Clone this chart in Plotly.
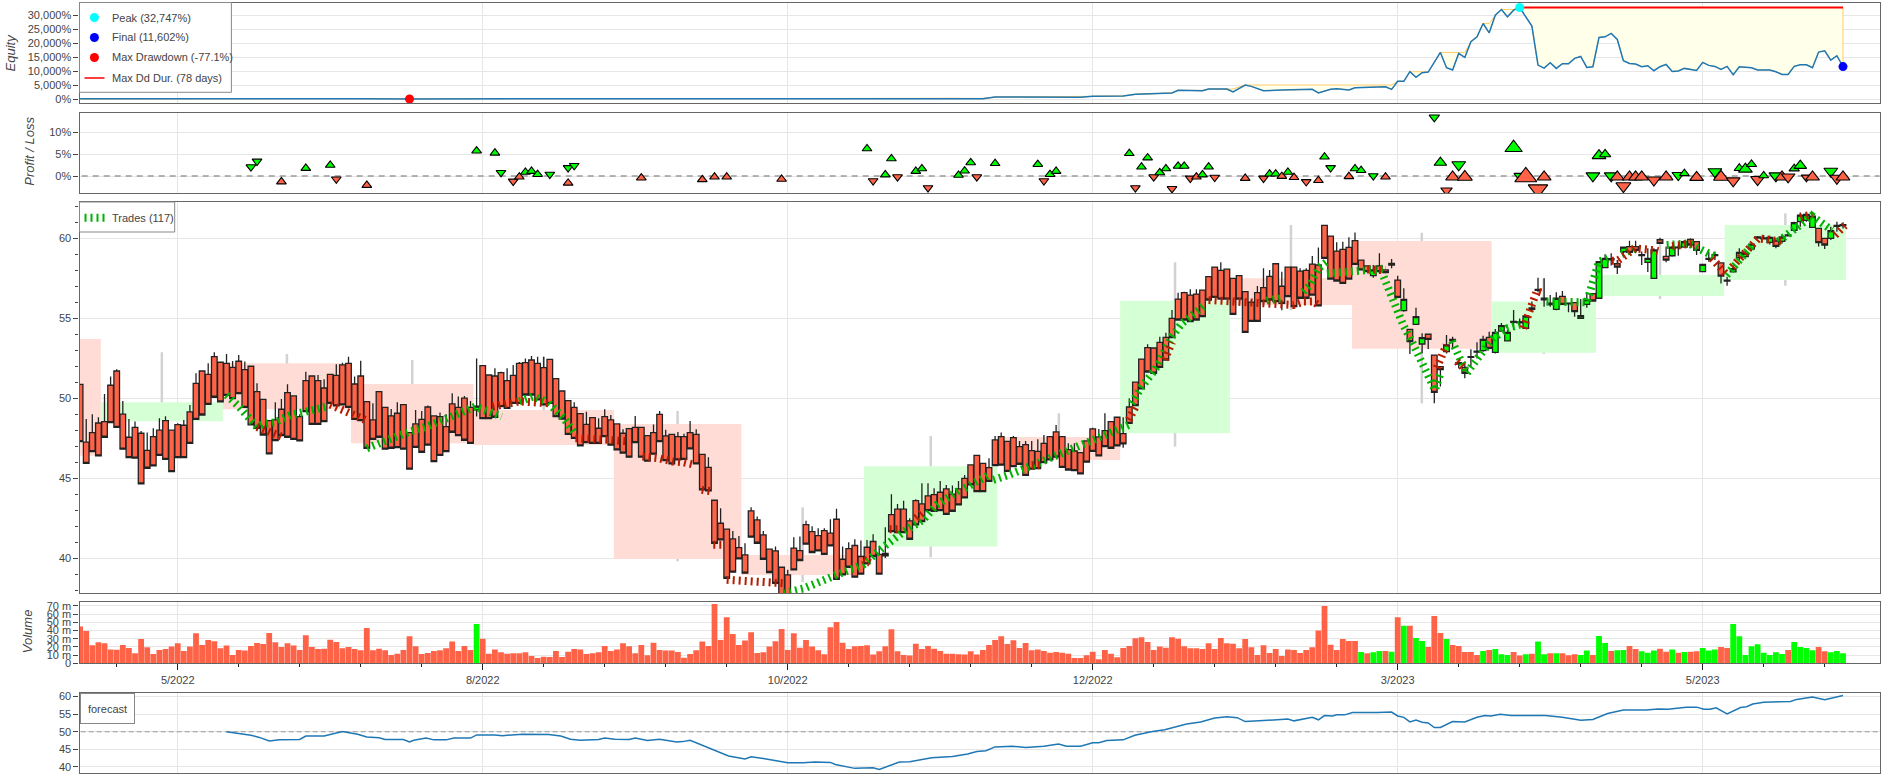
import numpy as np
import plotly.graph_objects as go

W, H = 1884, 778
first_bar = 34

body_top = [
 50.87,47.25,47.85,48.45,48.54,50.81,51.70,49.00,47.56,48.18,
 47.81,46.74,47.60,48.00,48.60,48.00,48.35,48.31,49.14,50.93,
 51.70,51.49,52.60,52.25,52.18,51.93,52.31,51.79,52.00,50.41,
 49.93,48.60,48.64,49.31,50.35,50.14,48.85,51.10,51.39,51.10,
 50.64,51.49,51.43,52.08,52.18,50.89,51.39,49.79,48.64,50.41,
 49.43,48.89,49.06,49.60,47.85,48.39,48.68,49.45,48.89,48.85,
 48.22,49.64,49.43,50.00,49.43,49.51,52.04,51.45,51.39,51.60,
 51.10,51.43,52.18,52.22,52.39,52.18,51.91,52.43,51.22,50.45,
 49.85,49.43,49.04,48.37,48.79,48.12,48.85,48.64,48.39,47.81,
 48.10,48.18,48.18,47.66,47.85,48.99,47.64,47.74,47.60,47.60,
 47.85,47.74,46.49,45.68,43.62,42.18,41.81,41.20,40.66,40.20,
 42.95,42.39,41.45,40.56,40.45,39.43,38.95,40.62,40.47,42.10,
 41.66,41.41,41.72,41.56,42.43,39.93,40.60,40.79,40.10,40.68,
 41.04,40.24,40.29,42.72,43.06,43.06,42.33,43.60,43.39,43.89,
 43.97,44.12,44.33,44.00,44.33,44.99,45.83,46.43,45.93,45.66,
 47.39,47.60,47.30,47.54,46.97,47.10,46.72,46.68,47.18,47.60,
 47.89,47.60,46.79,46.70,46.60,47.33,48.08,47.58,47.97,48.54,
 48.81,47.79,49.45,51.00,52.45,53.16,53.14,53.49,53.81,54.99,
 56.20,56.60,56.45,56.51,56.76,57.60,58.20,58.00,58.07,57.50,
 57.67,56.67,56.00,56.60,56.91,57.62,58.41,57.00,58.20,58.20,
 57.95,58.00,58.39,58.33,60.81,60.14,59.20,59.31,59.43,59.85,
 58.64,58.27,58.02,58.27,58.02,58.43,57.39,56.18,54.31,55.10,
 53.79,54.00,52.70,51.98,53.33,53.68,52.22,51.93,52.60,52.95,
 53.68,53.81,54.12,54.54,54.12,54.81,54.78,55.14,55.65,56.80,
 56.25,55.95,56.25,56.37,55.95,55.98,55.16,56.16,56.54,58.54,
 58.75,58.72,58.41,59.45,59.48,59.48,58.98,58.75,59.27,59.91,
 58.87,59.45,59.45,59.79,59.93,59.79,58.37,58.75,58.98,58.46,
 57.39,58.10,59.12,59.06,59.64,60.08,60.02,60.06,59.83,60.08,
 60.22,60.98,61.45,61.50,61.39,60.62,60.00,60.48,60.80,60.85,
]
body_bot = [
 47.29,45.93,46.66,46.39,47.56,48.47,48.18,46.81,46.29,46.25,
 44.64,45.62,45.77,46.43,46.18,45.41,46.29,46.29,47.18,48.68,
 48.95,49.62,50.06,49.77,50.18,49.97,50.29,49.43,48.33,48.12,
 47.70,46.52,47.35,47.66,47.56,47.43,47.33,49.16,48.37,48.37,
 48.54,49.68,49.52,49.58,49.43,48.68,48.60,46.87,47.43,47.56,
 46.81,46.87,46.91,46.81,45.56,46.93,46.62,47.06,46.04,46.43,
 46.66,47.87,47.66,47.37,47.18,49.27,48.72,48.72,48.81,49.47,
 49.37,49.68,49.68,50.20,50.20,49.89,49.58,49.68,48.85,48.70,
 47.74,47.49,47.02,47.22,47.18,47.18,47.60,47.06,46.77,46.56,
 46.31,47.22,46.31,46.06,46.50,47.29,46.10,45.89,46.14,46.18,
 46.83,45.89,44.27,44.20,40.93,41.14,38.74,39.12,39.95,39.06,
 41.31,40.93,39.93,39.10,38.43,37.60,37.50,39.27,39.85,40.87,
 40.35,40.45,40.24,40.77,38.68,38.95,39.43,38.81,39.00,39.64,
 40.10,39.00,40.14,41.66,41.60,41.60,41.18,42.08,42.29,42.97,
 42.93,42.97,42.74,42.93,43.33,43.77,44.58,44.16,44.16,44.80,
 45.79,45.81,45.43,45.72,45.87,45.18,45.56,45.60,45.97,46.14,
 46.31,45.68,45.51,45.47,45.27,46.00,46.68,46.39,46.97,46.87,
 47.02,47.14,48.43,49.54,50.58,51.64,51.56,51.93,52.39,53.79,
 54.89,54.89,54.79,54.89,55.10,56.14,56.30,56.20,56.20,55.24,
 56.20,54.12,54.81,54.81,56.04,56.14,56.04,55.93,56.35,55.73,
 56.25,56.25,56.45,55.77,58.75,57.45,57.33,57.18,57.45,58.37,
 58.02,57.91,57.66,57.91,57.85,58.33,56.31,55.48,53.54,54.62,
 53.39,53.68,50.37,51.79,52.91,53.58,52.14,51.56,52.56,52.88,
 52.98,53.12,52.87,54.20,53.58,54.75,54.72,54.37,55.55,56.74,
 56.15,55.85,55.56,55.87,55.90,55.41,55.00,55.87,56.08,56.25,
 58.16,58.66,58.20,59.16,59.12,59.25,58.92,58.50,57.50,59.68,
 58.64,58.91,59.40,59.45,59.58,59.25,57.91,58.69,58.92,57.64,
 57.33,57.90,58.79,58.85,59.33,60.02,59.96,59.75,59.50,59.81,
 60.16,60.50,61.04,61.12,60.68,59.73,59.58,60.00,60.74,60.80,
]
wick_high = [
 50.87,48.70,49.00,48.81,50.27,51.35,51.81,49.83,48.70,48.54,
 47.95,47.85,48.12,48.74,48.87,48.00,48.43,48.64,49.58,51.56,
 51.70,52.18,52.87,52.25,52.77,52.33,52.70,52.29,52.00,50.93,
 49.93,48.60,49.74,49.95,50.87,50.14,49.00,51.66,51.39,51.45,
 51.18,51.49,52.12,52.22,52.60,51.35,52.35,49.79,49.68,50.41,
 49.43,49.33,49.74,49.60,47.85,49.26,49.20,49.54,48.89,49.10,
 49.00,50.31,50.10,50.14,49.83,52.49,52.04,51.45,51.87,51.66,
 51.87,52.08,52.27,52.49,52.64,52.60,52.60,52.43,51.22,50.50,
 49.85,49.74,49.04,49.16,48.79,48.74,49.31,48.95,48.39,48.06,
 48.10,48.89,48.18,47.66,48.35,49.20,48.02,47.74,47.89,47.77,
 48.58,48.06,46.49,46.31,43.62,43.12,41.81,41.70,41.39,40.93,
 43.18,42.60,41.70,40.56,40.72,39.43,39.27,41.31,41.35,42.33,
 42.00,41.87,41.87,42.43,43.08,40.72,41.00,41.18,41.10,41.14,
 41.50,40.72,41.93,44.00,43.39,43.58,42.49,43.68,44.68,44.68,
 44.37,44.83,44.58,44.54,44.83,45.20,45.83,46.43,45.93,46.24,
 47.64,47.85,47.30,47.64,47.32,47.33,47.32,47.43,47.70,47.60,
 48.33,47.60,47.18,47.18,46.60,47.33,48.16,48.08,49.06,48.54,
 48.81,48.81,50.00,51.00,52.45,53.37,53.14,53.85,54.10,55.52,
 56.60,56.66,56.81,56.81,56.76,57.60,58.20,58.50,58.07,57.50,
 57.67,56.67,56.15,57.01,58.12,58.02,58.41,57.91,58.20,58.20,
 58.12,58.12,58.89,59.43,60.81,60.14,59.75,59.79,60.06,60.37,
 58.64,58.27,58.33,59.06,58.02,58.70,57.66,56.87,54.31,55.66,
 54.06,54.00,52.70,51.98,53.96,53.85,52.22,52.29,53.06,53.50,
 53.90,54.16,54.33,54.70,54.27,55.52,54.99,55.14,56.04,57.54,
 57.50,56.46,56.62,56.70,55.95,55.98,56.20,56.62,56.54,58.58,
 59.00,59.06,58.64,59.48,59.85,59.85,59.17,59.37,59.37,60.04,
 59.48,59.54,59.62,59.89,60.00,59.79,58.37,59.16,59.17,58.46,
 57.60,58.30,59.37,59.20,59.64,60.15,60.20,60.16,60.00,60.20,
 60.35,61.04,61.62,61.62,61.50,60.62,60.00,60.73,61.04,61.00,
]
lower_wick_bars = [99,166,205,228,231,246,247,249,250,251,252,254,255,256,257,258,259,260,261,262,263,264,266,269,270,272,273,274,275,276,278,279,281,285,286,287,288,289,290,291,294,295,296,299,301,302,303,304,306,311,312,313,316,317,319,320,321,322,323]
lower_wick_vals = [48.85,40.00,46.90,55.83,55.50,57.54,57.81,58.12,56.25,55.40,52.77,52.81,53.08,49.68,50.73,52.80,53.12,51.87,51.25,51.98,52.49,52.90,52.80,54.27,54.48,55.41,56.62,55.72,55.72,55.50,55.37,55.10,55.66,58.30,57.77,58.96,58.96,59.06,58.33,57.90,58.50,58.85,58.91,58.96,58.54,58.64,57.18,57.04,58.64,59.62,59.37,59.68,60.73,61.04,59.48,59.33,59.90,60.41,60.62]
up_bars = [99,246,249,251,253,254,258,262,263,264,266,267,268,269,270,271,273,274,276,278,280,281,283,284,285,287,290,291,292,295,296,297,300,301,304,305,306,307,308,309,310,311,313,314,315,316,317,318,321,323]

volumes_m = [
 45,39.5,22,25.6,24.4,17,16.7,22.4,18.7,12.2,
 29.7,19.5,11.4,16.3,17.5,20.4,24.4,15,20.4,36.6,
 22.4,28.5,26.9,18.3,21.6,10.2,16.3,15.5,21.2,24.8,
 23.6,37,25.6,20,24.4,21.6,16.3,34.2,20,17.5,
 17.9,28.9,26,18.3,20,17.5,15.9,43,15.9,17.9,
 15.9,10.2,11.8,16.3,33,20.8,11.4,12.6,15,15.9,
 18.3,26.5,15,21.2,16.3,48,30,11.8,17,13.4,
 11.8,12.2,12.2,13.4,9,6.5,8.1,7.7,15,7.7,
 14.2,17.5,17,11.4,12.2,13.4,21.2,15,17,24.4,
 20.8,12.2,22.4,9.8,25.2,16.3,15.5,15.5,13.8,6.9,
 11.4,15.9,26.5,21.2,72.4,28.5,56.2,35.8,22.4,27.7,
 37.9,12.6,13.4,20.4,26.9,41.9,16.3,36.6,19.1,28.5,
 20.4,15.9,11,44,50.5,25.2,17.5,20.8,21.2,22,
 10.6,14.7,20.8,41.5,14.7,10.2,9.4,24,17.5,21.2,
 17.9,15,11.8,11.8,11,10.6,14.7,10.6,16.3,22.4,
 28.5,33,23.6,28,18.7,24.8,15.9,17,15,13,
 13.8,13,11.8,6.5,6.5,9.8,14.2,4.9,16.3,11.8,
 7.3,18.7,21.2,30.5,31.7,26,16.3,20.4,19.1,31.7,
 30,20.8,18.3,18.3,17.5,24.4,17.5,31,24.4,24,
 18.3,29.7,19.5,10.2,22,12.6,17.5,9,17,16.3,
 12.6,16.3,19.5,40,70,22.8,16.3,29.7,27.3,27.3,
 13.8,12.2,13.4,15,15,14.2,56.2,46,46,31,
 27.3,20,57.8,37,29.7,22.4,21.2,13.8,13.8,10.2,
 15,16.3,17.5,11,10.2,13.8,9.4,11,11.8,26.5,
 11,12.2,12.2,12.2,9.8,11,10.2,15.5,10.2,33.4,
 24.8,15,15.9,16.3,21.2,17.5,14.7,13,15.5,17.9,
 14.2,17,13,13.8,14.2,14.7,18.7,15.5,17,20,
 18.7,48,33,10.2,20.8,23.2,13,10.2,13.4,11.4,
 16.3,26,20,18.7,15.9,20,14.7,13.4,15,12.2,
]
volume_green_bars = [99,244,246,247,249,251,253,254,258,264,266,267,268,271,273,274,276,280,281,283,284,286,287,290,291,292,295,297,300,301,302,305,306,307,308,309,310,311,312,313,315,316,317,318,321,322,323]

coarse_start = [17.4,37.4,57.4,78.4,98.5,121.5,142.4,162.5,184.4,204.5,222.5,242.5,265.4,282.5,303.6]
coarse_end = [37.4,57.4,78.4,98.5,121.5,142.4,162.5,184.4,204.5,222.5,242.5,265.4,282.5,303.5,323.5]
coarse_top = [53.7,49.75,52.18,50.89,49.26,48.39,40.2,45.74,47.58,56.1,57.5,59.83,56.04,57.7,60.83]
coarse_bot = [46.4,48.56,49.31,47.18,47.08,39.95,38.95,40.72,46.14,47.81,55.83,53.1,52.85,56.39,57.39]
coarse_high = [53.7,52.87,52.77,52.39,52.6,49.2,43.18,47.64,49.06,58.5,60.83,60.35,57.5,59.9,61.56]
coarse_low = [46.4,48.56,49.31,47.18,47.08,39.8,38.5,40.05,46.14,46.97,55.5,49.68,52.77,56.2,57.04]
coarse_rising = [0,1,0,0,0,0,0,1,0,1,0,0,1,1,1]

equity_bar = [34,45,58,66,75,80,88,100,110,120,124,150,165,177,182,184,195,198,200,205,207,210,213,214,218,219,222,223,225,226,
 228,231,236,237,239,240,242,243,246,248,249,250,251,252,253,254,255,257,258,259,260,261,262,263,264,265,266,267,268,269,270,271,272,
 273,274,275,276,277,278,279,280,281,282,283,284,285,286,287,288,289,290,291,292,293,294,295,296,297,298,299,300,301,302,303,304,305,
 306,307,308,309,310,311,312,313,314,315,316,317,318,319,320,321,322,323]
equity_pct = [60,100,180,100,190,130,20,120,180,100,119,119,119,238,119,714,714,595,952,1071,1667,1905,2143,3095,2976,3571,3571,2500,5000,4520,
 2976,3214,3452,2143,3452,3690,3214,4048,4167,4405,3452,6310,6310,9762,7738,9405,9643,16667,11190,10357,16310,14881,20476,22262,27024,23690,30000,32024,29405,31786,32747,29405,26071,
 12143,11071,12976,10952,12619,12619,14524,15238,11310,11548,22024,22262,23452,21310,13690,12738,12500,11548,11905,10119,11548,12381,9881,10000,10952,10476,10238,13095,12024,11667,10595,11667,8690,
 11548,11429,11190,10357,10357,10357,9762,8810,8810,11667,12262,12262,11190,16786,17262,13929,15476,11602]
peak_bar, peak_pct = 270, 32747
final_bar, final_pct = 323, 11602
dd_bar, dd_pct = 88, 20

pl_bar = [62,63,67,71,75,76,81,99,102,103,105,106,107,108,109,111,114,114,115,
 126,136,138,140,149,163,164,166,167,168,171,172,173,178,179,180,181,184,191,192,193,194,206,207,208,209,210,211,212,213,214,215,216,217,218,219,220,225,
 228,229,230,231,232,233,235,237,238,239,242,243,244,246,248,256,257,258,259,260,261,269,270,271,273,274,282,283,284,285,286,287,288,289,290,292,294,296,297,299,302,303,305,306,307,308,309,310,312,313,314,315,316,317,318,321,322,323]
pl_pct = [2.1,3.4,-1.3,1.8,2.5,-0.7,-2.1,5.8,5.3,0.8,-1.2,-0.2,0.9,1.1,0.4,0.4,1.9,-1.6,2.4,
 -0.4,-0.8,-0.2,-0.2,-0.7,6.3,-1.1,0.3,4.0,-0.2,1.1,1.7,-2.7,0.2,1.2,3.1,-0.2,2.9,2.7,-1.1,0.4,1.1,5.2,-2.7,2.1,4.2,-0.2,0.8,1.7,-2.9,2.3,2.3,-0.5,-0.2,0.3,2.1,-0.3,-0.5,
 -0.5,0.5,0.5,-0.05,0.9,-0.3,-1.3,-1.0,4.4,1.9,-0.1,1.7,1.3,0.05,-0.2,13.5,3.1,-3.3,-0.2,2.6,-0.2,6.5,0.05,-0.2,-3.0,-0.2,0.05,4.7,5.0,0.05,-0.2,-2.3,-0.2,-0.2,-0.2,-0.9,-0.2,0.2,0.6,-0.3,1.0,-0.2,-1.1,1.8,1.6,2.7,-0.8,0.1,0.05,-0.2,-0.2,1.7,2.4,-0.3,-0.2,1.1,-0.5,-0.2]
pl_short_bars = [62,63,76,103,105,111,115,164,168,173,181,192,207,210,213,216,220,228,235,239,246,256,258,260,270,273,282,285,287,292,296,302,305,309,312,314,317,321,322]
pl_trade_size = [8.5]*57 + [8.5]*15 + [9,11,10,12,12,13,15,10,19,17,12,12,12,10,12,12,13,12,12,12,12,12,11,8.5,12,12,13,12,9,12,9,12,8.5,12,12,12,9,11,9,12,12,12,12]

forecast_bar = [58,60,62,63.4,65,66.7,70,71,74,77,79.5,81,83,84,87,88,88.7,90.7,92,94,95.3,98,99,102,103.2,106.5,110.8,112.8,114.4,116,119,120,121.7,124,
 125,127,129,131.8,132.8,134,136,138,140.3,143,144,146,150,152.5,154.5,157,157.8,161,164,165,167,168.3,170,173.6,177,179.5,181,182.5,184,186.8,189,192,194.4,195.7,198,200,201,202.3,205,206.9,209.8,211.8,215.4,217.7,220,222,223.7,225,
 228,231.4,232,233,236,237,238,239.3,240,241.3,242.6,246.6,249,250,251,252,253,254,255,256,257,259,261,263,264.3,265.3,266.8,268.6,274.2,277,280,282,284.4,287,290.7,292.7,294.3,297.3,299,300.2,301.2,302.2,304,306.2,307.2,308.2,310,314.4,315.4,318,320,323]
forecast_val = [50,49.5,49,48.4,47.4,47.7,47.8,48.8,48.8,50.1,49.3,48.5,48.3,47.8,47.8,47.1,47.6,48.2,47.7,47.7,48.2,48.2,49.1,49.1,48.9,49.3,49.2,48.8,47.9,47.6,47.8,48.2,47.9,47.8,
 48.2,47.5,47.9,47.1,47.2,47.6,46.2,44.6,43.1,42.3,42.9,42.4,41.2,41.2,41.4,41.3,40.7,39.6,39.8,39.3,40.7,41.4,41.5,42.6,43,43.7,44.4,44.6,45.7,45.9,45.5,45.9,46.5,45.9,45.9,46.9,46.9,47.5,47.7,49,50.1,50.6,52.2,52.8,53.9,54.3,54,52.9,
 53.2,53.4,53.6,53.1,54.1,53.4,54.6,54.5,54.8,54.8,55.5,55.5,55.6,54.5,54.1,52.8,53.3,52.7,52.5,51.2,51.2,52.9,52.8,54.1,54.6,54.5,55,54.6,54.6,54.1,53.3,53.5,55.2,56.2,56.2,56.5,56.4,57,57,56.4,56.4,56.8,55.1,56.9,57.1,57.9,58.4,58.6,59.2,59.9,59.1,60.3]

trade_green_x = [58,60,63,64,66,68.5,72,74.6,None, 81,83,85.7,87.9,90.6,93.4,96.1,98.8,101,103.1,None, 106,108.2,110.3,None, 110.8,113.3,115.2,None,
 149.3,152.6,158,162.4,165.7,169,172.2,174.4,178.2,None, 179,183,None, 183.7,186.2,191.6,195.5,200.9,205.9,None, 206.4,208,210.2,213,214.6,218.4,None,
 228.5,231.3,None, 234.5,235.6,237,238.4,None, 238.4,243,248.2,None, 247.7,249.3,250.9,252.6,254.2,256.1,257,None, 258.9,261.3,263.5,265.7,267.9,270,None,
 274.4,275.8,281,283,284.5,None, 286.7,289,None, 294.1,297.7,302,None, 303.9,308,None, 312.4,317.9,321.2]
trade_green_y = [50.2,49.5,48.2,48.4,48.5,48.95,49.25,49.5,None, 46.87,47.2,47.6,47.9,48.2,48.64,49.06,49.47,49.16,48.85,None, 49.8,50.1,49.8,None, 49.7,48.74,47.74,None,
 37.8,38.1,38.95,39.6,40.7,41.66,42.39,43.33,44.27,None, 44.37,45.2,None, 44.89,45.2,46.03,46.66,47.6,48.33,None, 49.68,50.7,51.77,53.85,54.68,55.83,None,
 56.1,56.25,None, 56.66,57.08,58.12,58.54,None, 57.8,58.0,58.12,None, 57.6,56.04,54.58,53.33,52.08,50.52,51.56,None, 53.58,51.56,52.7,53.75,54.37,54.6,None,
 56.04,56.04,56.0,58.54,58.75,None, 59.0,59.4,None, 59.58,59.68,58.85,None, 57.7,59.5,None, 59.8,61.4,60.5]
trade_red_x = [63,67,None, 75,81,None, 101.6,106,110.9,None, 115.2,118,120.7,124,None, 126.2,128.9,131.1,132.9,134.8,None, 135.9,137.8,None, 137.8,139.2,None, 140,149.3,None,
 162.4,163.5,None, 166.7,168,None, 171,172.5,None, 190,191.6,None, 205.9,207.2,None, 211.8,213,None, 219,228.3,232.9,234.6,236.2,237,None, 245,248,None,
 256.4,258,None, 259.7,260.8,None, 270.6,271.7,272.8,273.9,None, 285.1,286.2,None, 286.2,288.9,292.2,292.7,None, 295,298.7,None, 301.5,304,None, 304.8,309.1,312.9,None, 316,318,None, 321.7,323.3]
trade_red_y = [48.2,47.6,None, 49.6,48.6,None, 49.47,49.8,49.68,None, 47.5,47.5,47.4,47.3,None, 46.35,46.25,46.04,46.0,45.83,None, 44.27,44.16,None, 40.83,40.83,None, 38.64,38.43,None,
 39.9,39.7,None, 41.8,41.8,None, 42.5,43.0,None, 45.8,45.8,None, 48.64,49.6,None, 52.4,53.5,None, 56.14,55.93,55.83,56.04,56.04,55.83,None, 58.05,58.0,None,
 51.9,53.33,None, 52.3,51.9,None, 54.37,55.62,56.7,56.56,None, 58.6,58.6,None, 58.64,59.37,59.25,59.2,None, 59.5,59.7,None, 58.75,57.7,None, 58.2,60,59.8,None, 61.3,61.5,None, 60.2,60.8]

major_ticks = [50,100,150,200,250,300]
major_labels = ["5/2022","8/2022","10/2022","12/2022","3/2023","5/2023"]
equity_ticks = [0,5000,10000,15000,20000,25000,30000]
pl_ticks = [0,5,10]
price_ticks = [40,45,50,55,60]
volume_ticks = [0,10,20,30,40,50,60,70]
volume_labels = ["0","10 m","20 m","30 m","40 m","50 m","60 m","70 m"]
forecast_ticks = [40,45,50,55,60]
equity_legend_labels = ["Peak (32,747%)","Final (11,602%)","Max Drawdown (-77.1%)","Max Dd Dur. (78 days)"]
trades_legend_label = "Trades (117)"
forecast_legend_label = "forecast"

n = len(body_top)
assert n == len(body_bot) == len(wick_high) == len(volumes_m) == 290
assert len(equity_bar) == len(equity_pct)
assert len(pl_bar) == len(pl_pct) == len(pl_trade_size)
assert len(forecast_bar) == len(forecast_val)

bars = list(range(first_bar, first_bar + n))
lows = dict(zip(lower_wick_bars, lower_wick_vals))
opens = [b if i in up_bars else t for i, t, b in zip(bars, body_top, body_bot)]
closes = [t if i in up_bars else b for i, t, b in zip(bars, body_top, body_bot)]
wick_low = [lows.get(i, b) for i, b in zip(bars, body_bot)]

TOMATO, LIME = "#ff6347", "#00ff00"
TXT = "#444444"
GRID = "#e6e6e6"
FONT = "Liberation Sans, Arial, sans-serif"

def py(px):
    return 1 - px / H

def pxx(px):
    return px / W

L, R = 79.5 / W, 1879.6 / W
panels = [(2.5, 103), (112.5, 193.3), (202, 593.3), (602.3, 663.3), (692.7, 773.3)]
yranges = [(-1430, 34530), (-3.96, 14.6), (37.8, 62.27), (0, 74.5), (38.2, 61.1)]
xrange_ = [33.9, 329]

fig = go.Figure()

# Equity panel
eq = np.array(equity_pct, dtype=float)
run_max = np.maximum.accumulate(eq)
eq_x = list(equity_bar)
fig.add_trace(go.Scatter(x=eq_x + eq_x[::-1], y=list(run_max) + list(eq[::-1]), mode="lines", fill="toself",
    fillcolor="#ffffea", line=dict(color="#ffcb66", width=1), showlegend=False, hoverinfo="skip", xaxis="x", yaxis="y"))
fig.add_trace(go.Scatter(x=eq_x, y=eq, mode="lines", line=dict(color="#1f77b4", width=1.5), showlegend=False, xaxis="x", yaxis="y"))
fig.add_trace(go.Scatter(x=[peak_bar, final_bar], y=[peak_pct, peak_pct], mode="lines", line=dict(color="red", width=2), showlegend=False, xaxis="x", yaxis="y"))
fig.add_trace(go.Scatter(x=[peak_bar], y=[peak_pct], mode="markers", marker=dict(color="cyan", size=9), showlegend=False, xaxis="x", yaxis="y"))
fig.add_trace(go.Scatter(x=[final_bar], y=[final_pct], mode="markers", marker=dict(color="blue", size=9), showlegend=False, xaxis="x", yaxis="y"))
fig.add_trace(go.Scatter(x=[dd_bar], y=[dd_pct], mode="markers", marker=dict(color="red", size=9), showlegend=False, xaxis="x", yaxis="y"))

# Profit / Loss panel
pl_syms = []
seen_114 = False
for b in pl_bar:
    short = b in pl_short_bars
    if b == 114:
        short = not seen_114
        seen_114 = True
    pl_syms.append("triangle-down" if short else "triangle-up")
fig.add_trace(go.Scatter(x=[0, 400], y=[0, 0], mode="lines", line=dict(color="#9a9a9a", width=1.5, dash="6px,5px"), showlegend=False, hoverinfo="skip", xaxis="x2", yaxis="y2"))
fig.add_trace(go.Scatter(x=pl_bar, y=pl_pct, mode="markers", showlegend=False, xaxis="x2", yaxis="y2",
    marker=dict(symbol=pl_syms, size=pl_trade_size, opacity=1, color=[LIME if v >= 0 else TOMATO for v in pl_pct], line=dict(color="black", width=1.1))))

# Price panel: coarser period bars behind the daily candles (wicks first, so the box hides them)
cx = [(a + b) / 2 for a, b in zip(coarse_start, coarse_end)]
cw = [b - a for a, b in zip(coarse_start, coarse_end)]
fig.add_trace(go.Bar(x=cx, y=coarse_high, width=cw, showlegend=False, hoverinfo="skip",
    marker=dict(color="rgba(0,0,0,0)", line=dict(width=0)),
    error_y=dict(type="data", symmetric=False, array=[0] * len(cx), arrayminus=[h - l for h, l in zip(coarse_high, coarse_low)],
                 color="#d2d2d2", thickness=2.5, width=0),
    xaxis="x3", yaxis="y3"))
fig.add_trace(go.Bar(x=cx, y=[t - b for t, b in zip(coarse_top, coarse_bot)], base=coarse_bot, width=cw, showlegend=False, hoverinfo="skip",
    marker=dict(color=["#d5ffd5" if r else "#ffdcd6" for r in coarse_rising], line=dict(width=0)),
    xaxis="x3", yaxis="y3"))
fig.add_trace(go.Candlestick(x=bars, open=opens, high=wick_high, low=wick_low, close=closes, showlegend=False,
    increasing=dict(fillcolor=LIME, line=dict(color="#222222", width=1.3)),
    decreasing=dict(fillcolor=TOMATO, line=dict(color="#222222", width=1.3)),
    whiskerwidth=0, xaxis="x3", yaxis="y3"))
fig.add_trace(go.Scatter(x=trade_green_x, y=trade_green_y, mode="lines", showlegend=False, connectgaps=False,
    line=dict(color="#00b300", width=8, dash="2px,4px"), xaxis="x3", yaxis="y3"))
fig.add_trace(go.Scatter(x=trade_red_x, y=trade_red_y, mode="lines", showlegend=False, connectgaps=False,
    line=dict(color="#b71c00", width=8, dash="2px,4px"), xaxis="x3", yaxis="y3"))

# Volume panel
fig.add_trace(go.Bar(x=bars, y=volumes_m, width=0.95, showlegend=False,
    marker=dict(color=[LIME if i in volume_green_bars else TOMATO for i in bars], line=dict(width=0)), xaxis="x4", yaxis="y4"))

# Forecast panel
fig.add_trace(go.Scatter(x=[0, 400], y=[50, 50], mode="lines", line=dict(color="#9a9a9a", width=1, dash="5px,3px"), showlegend=False, hoverinfo="skip", xaxis="x5", yaxis="y5"))
fig.add_trace(go.Scatter(x=forecast_bar, y=forecast_val, mode="lines", line=dict(color="#1f77b4", width=1.5), showlegend=False, xaxis="x5", yaxis="y5"))

# Legend boxes, drawn so the glyph sizes and row spacing can follow the original
rows_y = [17.5, 37.5, 57.5, 78]
box = dict(type="rect", xref="paper", yref="paper", fillcolor="white", line=dict(color="#888888", width=1), layer="above")
shapes = [
    dict(box, x0=L, x1=pxx(231.4), y0=py(92.3), y1=py(2.5)),
    dict(box, x0=L, x1=pxx(174.7), y0=py(232), y1=py(202)),
]
for color, row in zip(["cyan", "blue", "red"], rows_y):
    shapes.append(dict(type="circle", xref="paper", yref="paper", fillcolor=color, line=dict(width=0), layer="above",
                       x0=pxx(94.4 - 4.5), x1=pxx(94.4 + 4.5), y0=py(row + 4.5), y1=py(row - 4.5)))
shapes.append(dict(type="line", xref="paper", yref="paper", layer="above", line=dict(color="red", width=1.5),
                   x0=pxx(84.5), x1=pxx(104.5), y0=py(rows_y[3]), y1=py(rows_y[3])))
shapes.append(dict(type="line", xref="paper", yref="paper", layer="above", line=dict(color="#00b300", width=8, dash="2px,4px"),
                   x0=pxx(84.5), x1=pxx(105), y0=py(217.7), y1=py(217.7)))

layout = dict(
    width=W, height=H, margin=dict(l=0, r=0, t=0, b=0, autoexpand=False), autosize=False,
    paper_bgcolor="white", plot_bgcolor="white", barmode="overlay", boxgap=0.08, boxgroupgap=0,
    font=dict(family=FONT, size=11, color=TXT), hovermode=False, showlegend=False, shapes=shapes,
)
tick_specs = [
    dict(tickvals=equity_ticks, ticktext=[f"{v:,}%" for v in equity_ticks]),
    dict(tickvals=pl_ticks, ticktext=[f"{v}%" for v in pl_ticks]),
    dict(tickvals=price_ticks, minor=dict(dtick=1, ticks="outside", ticklen=3, tickcolor=TXT, showgrid=False)),
    dict(tickvals=volume_ticks, ticktext=volume_labels),
    dict(tickvals=forecast_ticks),
]
for k in range(5):
    s = "" if k == 0 else str(k + 1)
    top, bot = panels[k]
    layout[f"yaxis{s}"] = dict(domain=[py(bot), py(top)], range=list(yranges[k]), anchor=f"x{s}", showgrid=True, gridcolor=GRID, gridwidth=1,
        zeroline=False, showline=True, mirror=True, linecolor="#666666", linewidth=1.2, ticks="outside", ticklen=5, tickcolor=TXT, tickwidth=1,
        tickfont=dict(size=11, color=TXT), fixedrange=True, **tick_specs[k])
    xa = dict(domain=[L, R], range=xrange_, anchor=f"y{s}", showgrid=True, gridcolor=GRID, gridwidth=1, zeroline=False,
        showline=True, mirror=True, linecolor="#666666", linewidth=1.2, tickvals=major_ticks, showticklabels=False, ticks="", fixedrange=True,
        rangeslider=dict(visible=False))
    if k == 3:
        xa.update(showticklabels=True, ticktext=major_labels, ticks="outside", ticklen=6, tickcolor="#222222", tickwidth=1,
                  tickfont=dict(size=11, color=TXT), minor=dict(dtick=10, tick0=0, ticks="outside", ticklen=3, tickcolor="#222222", showgrid=False))
    layout[f"xaxis{s}"] = xa
fig.update_layout(**layout)

def ytitle(text, x, y):
    fig.add_annotation(text=f"<i>{text}</i>", xref="paper", yref="paper", x=x / W, y=py(y), textangle=-90, showarrow=False,
                       font=dict(size=13, color=TXT), xanchor="center", yanchor="middle")
ytitle("Equity", 10, 52.5)
ytitle("Profit / Loss", 30, 151.7)
ytitle("Volume", 27.5, 631.7)

def legend_text(text, y):
    fig.add_annotation(text=text, xref="paper", yref="paper", x=pxx(109.7), y=py(y), xanchor="left", yanchor="middle", showarrow=False,
                       font=dict(size=11, color=TXT))
for label, row in zip(equity_legend_labels, rows_y):
    legend_text(label, row)
legend_text(trades_legend_label, 218)
fig.add_annotation(text=forecast_legend_label, xref="paper", yref="paper", x=L, y=py(692.7), xanchor="left", yanchor="top", showarrow=False,
                   bgcolor="white", bordercolor="#888888", borderwidth=1, width=51, height=27, font=dict(size=11, color=TXT), align="center", valign="middle")

fig.write_html("out.html", config={"displayModeBar": False}, post_script="document.body.style.margin='0';document.body.style.overflow='hidden';")
